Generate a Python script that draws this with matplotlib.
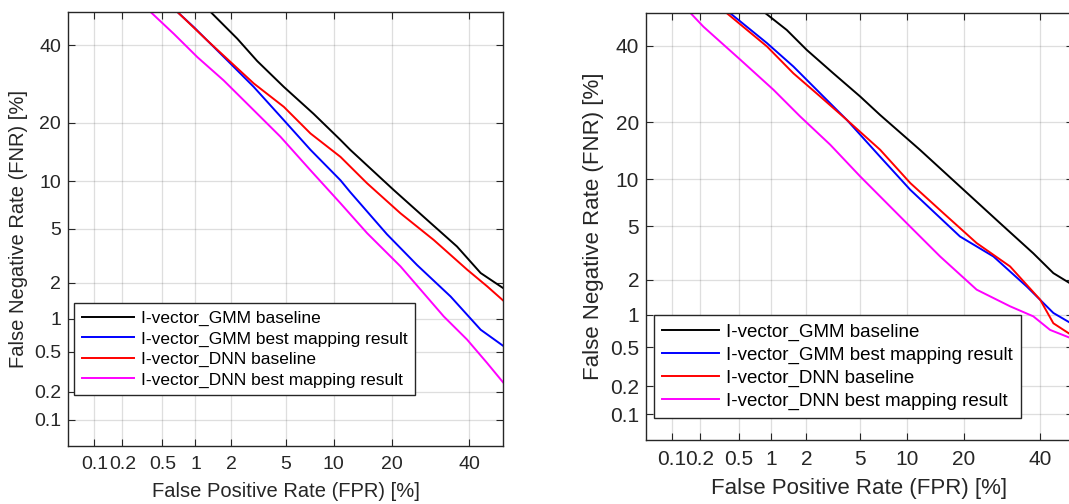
import numpy as np
import matplotlib
matplotlib.use("Agg")
import matplotlib.pyplot as plt
from statistics import NormalDist

plt.rcParams['font.family'] = ['Liberation Sans', 'DejaVu Sans']

# DET curves (FPR %, FNR %)
# left panel
l_gmm_base_x = [1.35, 2.22, 3.15, 4.87, 7.6, 10.95, 12.4, 20.4, 28.3, 36.4, 43.3, 50]
l_gmm_base_y = [50, 42, 35.5, 28.5, 22, 16.6, 14.8, 8.87, 5.75, 3.77, 2.39, 1.82]
l_gmm_map_x = [0.69, 0.97, 1.85, 2.97, 4.87, 7.27, 10.95, 12.4, 19, 25.8, 34.6, 43.3, 50]
l_gmm_map_y = [50, 45.4, 35.7, 28.5, 20.6, 14.8, 10.1, 8.6, 4.6, 2.75, 1.55, 0.8, 0.57]
l_dnn_base_x = [0.69, 1.26, 1.97, 2.97, 4.87, 7.27, 10.95, 15.2, 21.9, 30, 39.3, 45.2, 50]
l_dnn_base_y = [50, 41.5, 35.2, 29.4, 23.6, 17.85, 13.6, 9.7, 6.35, 4.2, 2.54, 1.88, 1.44]
l_dnn_map_x = [0.384, 0.64, 1.04, 1.73, 2.8, 4.62, 7.27, 10.95, 15.2, 21.9, 32.7, 39.3, 45.2, 50]
l_dnn_map_y = [50, 43.4, 36.6, 30.2, 23.6, 17.2, 11.5, 7.35, 4.68, 2.69, 1.05, 0.65, 0.39, 0.25]

# right panel
r_gmm_base_x = [0.885, 1.37, 2.01, 3.24, 5.05, 6.86, 11.9, 19.2, 28.7, 38, 44, 50]
r_gmm_base_y = [50, 44.8, 38.8, 32.1, 26, 21.6, 14.6, 9.06, 5.27, 3.2, 2.25, 1.8]
r_gmm_map_x = [0.41, 0.92, 1.56, 2.57, 4.07, 6.86, 10.5, 19.2, 27, 36.1, 44, 50]
r_gmm_map_y = [50, 40.8, 34, 26.8, 20.5, 13.4, 8.65, 4.25, 3.03, 1.75, 1.04, 0.82]
r_dnn_base_x = [0.38, 0.92, 1.56, 2.57, 4.07, 6.86, 10.5, 15.9, 22.9, 31.4, 40, 44, 50]
r_dnn_base_y = [50, 39.8, 32.1, 26, 20.5, 14.6, 9.5, 6.15, 3.81, 2.54, 1.36, 0.84, 0.64]
r_dnn_map_x = [0.16, 0.22, 0.52, 1.05, 1.77, 3.07, 5.05, 10, 15.3, 22.9, 31.4, 38, 43, 50]
r_dnn_map_y = [50, 45.8, 35.9, 27.7, 21.3, 15.5, 10.4, 5.27, 3.03, 1.65, 1.19, 0.97, 0.73, 0.6]

tick_vals = [0.1, 0.2, 0.5, 1, 2, 5, 10, 20, 40]
tick_labels = ['0.1', '0.2', '0.5', '1', '2', '5', '10', '20', '40']
legend_labels = ['I-vector_GMM baseline', 'I-vector_GMM best mapping result',
                 'I-vector_DNN baseline', 'I-vector_DNN best mapping result']
colors = ['black', 'blue', 'red', 'magenta']
ink = '#262626'

_nd = NormalDist()
_ppf = np.vectorize(_nd.inv_cdf, otypes=[float])
_cdf = np.vectorize(_nd.cdf, otypes=[float])


def probit(p):
    p = np.clip(np.asarray(p, dtype=float) / 100.0, 1e-9, 1 - 1e-9)
    return _ppf(p)


def inv_probit(z):
    return _cdf(np.asarray(z, dtype=float)) * 100.0


def det_axes(ax, series, leg_anchor, tick_fs, label_fs, leg_fs, xpad):
    for (x, y), c, lab in zip(series, colors, legend_labels):
        ax.plot(x, y, color=c, lw=1.4, label=lab)
    ax.set_xscale('function', functions=(probit, inv_probit))
    ax.set_yscale('function', functions=(probit, inv_probit))
    ax.set_xlim(0.05, 50)
    ax.set_ylim(0.05, 50)
    ax.set_xticks(tick_vals)
    ax.set_xticklabels(tick_labels)
    ax.set_yticks(tick_vals)
    ax.set_yticklabels(tick_labels)
    ax.minorticks_off()
    ax.grid(True, color=ink, alpha=0.15, lw=0.9)
    ax.tick_params(direction='in', top=True, right=True, length=5,
                   labelsize=tick_fs, colors=ink, labelcolor=ink)
    ax.tick_params(axis='x', pad=7)
    ax.tick_params(axis='y', pad=5)
    for s in ax.spines.values():
        s.set_color(ink)
        s.set_linewidth(1.0)
    ax.set_xlabel('False Positive Rate (FPR) [%]', fontsize=label_fs, color=ink, labelpad=xpad)
    ax.set_ylabel('False Negative Rate (FNR) [%]', fontsize=label_fs, color=ink, labelpad=4)
    leg = ax.legend(loc='upper left', bbox_to_anchor=leg_anchor,
                    bbox_transform=ax.figure.transFigure, fontsize=leg_fs,
                    fancybox=False, handlelength=3.0, borderpad=0.45,
                    labelspacing=0.3, handletextpad=0.4, borderaxespad=0,
                    framealpha=1)
    leg.get_frame().set_edgecolor(ink)
    leg.get_frame().set_linewidth(1.0)


fig = plt.figure(figsize=(10.69, 5.04), dpi=100)
ax1 = fig.add_axes([0.0636, 0.1151, 0.4069, 0.8611])
ax2 = fig.add_axes([0.6043, 0.127, 0.3994, 0.8472])

det_axes(ax1, [(l_gmm_base_x, l_gmm_base_y), (l_gmm_map_x, l_gmm_map_y),
               (l_dnn_base_x, l_dnn_base_y), (l_dnn_map_x, l_dnn_map_y)],
         (74 / 1069, 1 - 303 / 504), 14, 14.5, 12.5, 7)
det_axes(ax2, [(r_gmm_base_x, r_gmm_base_y), (r_gmm_map_x, r_gmm_map_y),
               (r_dnn_base_x, r_dnn_base_y), (r_dnn_map_x, r_dnn_map_y)],
         (654 / 1069, 1 - 315 / 504), 15, 16, 13.5, 7)

fig.savefig('out.png', dpi=100)
